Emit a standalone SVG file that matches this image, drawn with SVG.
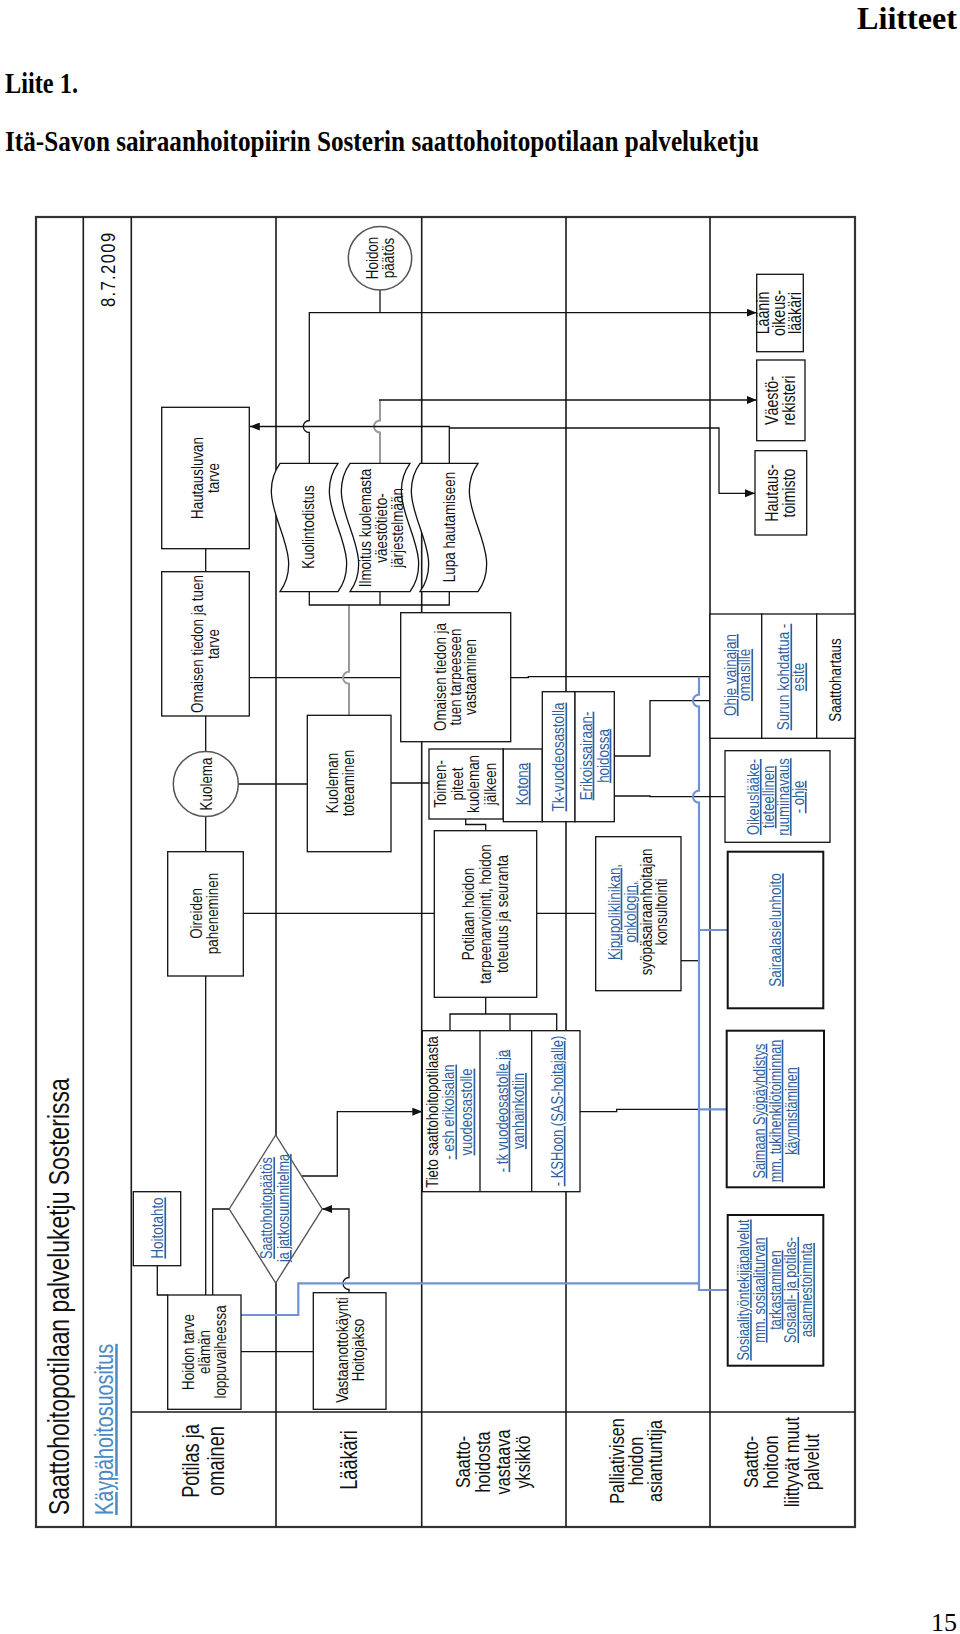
<svg xmlns="http://www.w3.org/2000/svg" width="960" height="1634" viewBox="0 0 960 1634">
<defs>
<style>
.ln{stroke:#111;stroke-width:1.3;fill:none}
.gl{stroke:#9a9a9a;stroke-width:2;fill:none}
.bl{stroke:#6f93d3;stroke-width:2.2;fill:none}
.bx{fill:#fff;stroke:#111;stroke-width:1.3}
.bx2{fill:#fff;stroke:#111;stroke-width:2}
.lane{stroke:#1a1a1a;stroke-width:1.6;fill:none}
.t{font-family:"Liberation Sans",Arial,sans-serif;font-size:17px;fill:#111;text-anchor:middle}
.lk{fill:#2f5f9f;text-decoration:underline}
.hd{font-family:"Liberation Serif","Times New Roman",serif;font-weight:bold;fill:#000}
</style>
<marker id="ar" viewBox="0 0 10 8" refX="10" refY="4" markerWidth="10" markerHeight="8" markerUnits="userSpaceOnUse" orient="auto"><path d="M0,0L10,4L0,8z" fill="#111"/></marker>
</defs>
<rect width="960" height="1634" fill="#fff"/>
<g id="page-text">
<text class="hd" x="957" y="29" text-anchor="end" style="font-size:32px" textLength="100" lengthAdjust="spacingAndGlyphs">Liitteet</text>
<text class="hd" x="5" y="93" style="font-size:29px" textLength="73" lengthAdjust="spacingAndGlyphs">Liite 1.</text>
<text class="hd" x="5" y="151" style="font-size:29px" textLength="754" lengthAdjust="spacingAndGlyphs">Itä-Savon sairaanhoitopiirin Sosterin saattohoitopotilaan palveluketju</text>
<text x="957" y="1631" text-anchor="end" font-family="Liberation Serif,serif" font-size="26">15</text>
</g>
<g id="frame">
<rect x="36" y="217" width="819" height="1310" fill="none" stroke="#333" stroke-width="2.2"/>
<path class="lane" d="M83.3,217V1527M131.3,217V1527M276,217V1527M421.7,217V1527M566,217V1527M710,217V1527M131.3,1412H855"/>
<text class="t" style="text-anchor:start;font-size:29px" transform="translate(69,1515) rotate(-90) scale(.79,1)">Saattohoitopotilaan palveluketju Sosterissa</text>
<text class="t" style="font-size:21px" textLength="94" transform="translate(115,270) rotate(-90) scale(.79,1)">8.7.2009</text>
<text class="t lk" style="text-anchor:start;fill:#4a8ac4;font-size:25px" transform="translate(113,1515) rotate(-90) scale(.79,1)">Käypähoitosuositus</text>
</g>
<g id="lane-labels">
<text class="t" style="font-size:23px" transform="translate(203.5,1461) rotate(-90) scale(.79,1)"><tspan x="0" y="-4.5">Potilas ja</tspan><tspan x="0" y="20.5">omainen</tspan></text>
<text class="t" style="font-size:23px" transform="translate(349,1460) rotate(-90) scale(.79,1)"><tspan x="0" y="8">Lääkäri</tspan></text>
<text class="t" style="font-size:20.5px" transform="translate(493,1462) rotate(-90) scale(.79,1)"><tspan x="0" y="-22.8">Saatto-</tspan><tspan x="0" y="-2.8">hoidosta</tspan><tspan x="0" y="17.2">vastaava</tspan><tspan x="0" y="37.2">yksikkö</tspan></text>
<text class="t" style="font-size:20.5px" transform="translate(636,1461) rotate(-90) scale(.79,1)"><tspan x="0" y="-11.8">Palliativisen</tspan><tspan x="0" y="7.2">hoidon</tspan><tspan x="0" y="26.2">asiantuntija</tspan></text>
<text class="t" style="font-size:20.5px" transform="translate(781,1462) rotate(-90) scale(.79,1)"><tspan x="0" y="-23.5">Saatto-</tspan><tspan x="0" y="-3">hoitoon</tspan><tspan x="0" y="17.5">liittyvät muut</tspan><tspan x="0" y="38">palvelut</tspan></text>
</g>
<g id="connectors">
<path class="ln" d="M205.7,548.7V571.7M205.7,716V751.5M205.7,816.3V851.7M205.7,976V1295"/>
<path class="ln" d="M157.3,1265.7V1295H167.7"/>
<path class="ln" d="M212.7,1295V1209H229.2"/>
<path class="ln" d="M241,1351.7H313.3"/>
<path class="ln" marker-end="url(#ar)" d="M349,1292.7V1289.5A6,6 0 0 1 349,1277.5V1209H322.2"/>
<path class="ln" marker-end="url(#ar)" d="M302,1176H337.3V1111.7H422.3"/>
<path class="ln" d="M238.3,784H307.3M391,783H429M243.3,913.3H434.3M536.7,913.3H595.7"/>
<path class="ln" d="M465.7,819V824.5H485.7V830.7"/>
<path class="ln" d="M485.7,997.3V1014M450,1030.7V1014H556.7V1030.7M510,1014V1030.7"/>
<path class="ln" d="M249.3,677.7H400.7"/>
<path class="gl" d="M349,605V671.7A6,6 0 0 0 349,683.7V715.3"/>
<path class="ln" d="M309.3,591.7V605H449.3V591.7M380,591.7V605"/>
<path class="ln" marker-end="url(#ar)" d="M309.3,463.3V432.5A6,6 0 0 1 309.3,420.5V312.7H756.7"/>
<path class="ln" d="M380,290V312.7"/>
<path class="gl" d="M380,463.3V432.5A6,6 0 0 1 380,420.5V400"/>
<path class="ln" marker-end="url(#ar)" d="M379,400H756.7"/>
<path class="ln" marker-end="url(#ar)" d="M449.3,463.3V426.5H249.8"/>
<path class="ln" marker-end="url(#ar)" d="M449.3,428H719V493.3H755"/>
<path class="ln" d="M510.7,677.7H528.3V676.7H710"/>
<path class="ln" d="M614.3,756H650V700.7H710"/>
<path class="ln" d="M614.3,796H650V796.7H725"/>
<path class="ln" d="M681,960.7H699"/>
<path class="ln" d="M580,1111.7H616.7V1109.3H699"/>
<path class="bl" d="M241,1315H298.3V1283.3H699"/>
<path class="bl" d="M699,676.7V694.7A6,6 0 0 0 699,706.7V790.7A6,6 0 0 0 699,802.7V1290H728.3"/>
<path class="bl" d="M699,930H727.7M699,1109.3H726.7"/>
</g>
<g id="n-hautausluvan"><rect class="bx" x="161.7" y="407.3" width="87.6" height="141.4"/>
<text class="t" transform="translate(204.7,478) rotate(-90) scale(.79,1)"><tspan x="0" y="-2">Hautausluvan</tspan><tspan x="0" y="14">tarve</tspan></text></g>
<g id="n-omaisen-tarve"><rect class="bx" x="161.7" y="571.7" width="87.6" height="144.3"/>
<text class="t" transform="translate(204.7,644) rotate(-90) scale(.79,1)"><tspan x="0" y="-2">Omaisen tiedon ja tuen</tspan><tspan x="0" y="14">tarve</tspan></text></g>
<g id="n-kuolema"><circle cx="205.8" cy="784" r="32.5" fill="#fff" stroke="#555" stroke-width="1.5"/>
<text class="t" transform="translate(205.8,784) rotate(-90) scale(.79,1)"><tspan x="0" y="6">Kuolema</tspan></text></g>
<g id="n-oireiden"><rect class="bx" x="167.7" y="851.7" width="75.6" height="124.3"/>
<text class="t" transform="translate(204,913.5) rotate(-90) scale(.79,1)"><tspan x="0" y="-2">Oireiden</tspan><tspan x="0" y="14">paheneminen</tspan></text></g>
<g id="n-hoitotahto"><rect class="bx" x="133.3" y="1191.7" width="47.4" height="74"/>
<text class="t lk" transform="translate(157.3,1228) rotate(-90) scale(.79,1)"><tspan x="0" y="6">Hoitotahto</tspan></text></g>
<g id="n-hoidon-tarve"><rect class="bx" x="167.7" y="1295" width="73.3" height="114.3"/>
<text class="t" transform="translate(204,1352) rotate(-90) scale(.79,1)"><tspan x="0" y="-10">Hoidon tarve</tspan><tspan x="0" y="6">elämän</tspan><tspan x="0" y="22">loppuvaiheessa</tspan></text></g>
<g id="n-paatos"><polygon points="229.2,1209 275.7,1135 322.2,1209 275.7,1283" fill="#fff" stroke="#555" stroke-width="1.4"/>
<text class="t lk" style="font-size:16px" transform="translate(275,1208) rotate(-90) scale(.79,1)"><tspan x="0" y="-2.7">Saattohoitopäätös</tspan><tspan x="0" y="13.9">ja jatkosuunnitelma</tspan></text></g>
<g id="n-vastaanotto"><rect class="bx" x="313.3" y="1292.7" width="72.7" height="116.6"/>
<text class="t" transform="translate(350,1350) rotate(-90) scale(.79,1)"><tspan x="0" y="-2">Vastaanottokäynti</tspan><tspan x="0" y="14">Hoitojakso</tspan></text></g>
<g id="n-kuoleman-toteaminen"><rect class="bx" x="307.3" y="715.3" width="83.7" height="136.4"/>
<text class="t" transform="translate(340,783) rotate(-90) scale(.79,1)"><tspan x="0" y="-2">Kuoleman</tspan><tspan x="0" y="14">toteaminen</tspan></text></g>
<g id="n-kuolintodistus"><path class="bx" d="M280,463.3H338C308,505.7 368,549.3 338,591.7H280C310,549.3 250,505.7 280,463.3Z"/>
<text class="t" transform="translate(308,527) rotate(-90) scale(.79,1)"><tspan x="0" y="6">Kuolintodistus</tspan></text></g>
<g id="n-ilmoitus"><path class="bx" d="M350,463.3H410C380,505.7 440,549.3 410,591.7H350C380,549.3 320,505.7 350,463.3Z"/>
<text class="t" transform="translate(380.6,528) rotate(-90) scale(.79,1)"><tspan x="0" y="-10">Ilmoitus kuolemasta</tspan><tspan x="0" y="6">väestötieto-</tspan><tspan x="0" y="22">järjestelmään</tspan></text></g>
<g id="n-lupa"><path class="bx" d="M420,463.3H478C448,505.7 508,549.3 478,591.7H420C450,549.3 390,505.7 420,463.3Z"/>
<text class="t" transform="translate(449.3,527) rotate(-90) scale(.79,1)"><tspan x="0" y="6">Lupa hautamiseen</tspan></text></g>
<g id="n-hoidon-paatos"><circle cx="380" cy="258.3" r="31.7" fill="#fff" stroke="#555" stroke-width="1.5"/>
<text class="t" transform="translate(380,258) rotate(-90) scale(.79,1)"><tspan x="0" y="-2">Hoidon</tspan><tspan x="0" y="14">päätös</tspan></text></g>
<g id="n-omaisen-vastaaminen"><rect class="bx" x="400.7" y="612.7" width="110" height="129"/>
<text class="t" transform="translate(455,677) rotate(-90) scale(.79,1)"><tspan x="0" y="-9">Omaisen tiedon ja</tspan><tspan x="0" y="6">tuen tarpeeseen</tspan><tspan x="0" y="21">vastaaminen</tspan></text></g>
<g id="n-toimenpiteet"><rect class="bx" x="429" y="749" width="74.3" height="70"/>
<text class="t" transform="translate(465,784) rotate(-90) scale(.79,1)"><tspan x="0" y="-18.7">Toimen-</tspan><tspan x="0" y="-2.2">piteet</tspan><tspan x="0" y="14.3">kuoleman</tspan><tspan x="0" y="30.8">jälkeen</tspan></text></g>
<g id="n-kotona"><rect class="bx" x="503.3" y="749" width="39" height="72.7"/>
<text class="t lk" transform="translate(521.7,784) rotate(-90) scale(.79,1)"><tspan x="0" y="6">Kotona</tspan></text></g>
<g id="n-tk"><rect class="bx" x="542.3" y="691.7" width="32.7" height="130"/>
<text class="t lk" transform="translate(558.3,757) rotate(-90) scale(.79,1)"><tspan x="0" y="6">Tk-vuodeosastolla</tspan></text></g>
<g id="n-erikois"><rect class="bx" x="575" y="691.7" width="39.3" height="130"/>
<text class="t lk" transform="translate(594,756) rotate(-90) scale(.79,1)"><tspan x="0" y="-2.5">Erikoissairaan-</tspan><tspan x="0" y="14.5">hoidossa</tspan></text></g>
<g id="n-potilaan"><rect class="bx" x="434.3" y="830.7" width="102.4" height="166.6"/>
<text class="t" transform="translate(485,914) rotate(-90) scale(.79,1)"><tspan x="0" y="-10.7">Potilaan hoidon</tspan><tspan x="0" y="6">tarpeenarviointi, hoidon</tspan><tspan x="0" y="22.7">toteutus ja seuranta</tspan></text></g>
<g id="n-kipu"><rect class="bx" x="595.7" y="836.7" width="85.3" height="154"/>
<text class="t" transform="translate(637.5,912) rotate(-90) scale(.79,1)"><tspan class="lk" x="0" y="-18">Kipupoliklinikan,</tspan><tspan class="lk" x="0" y="-2">onkologin,</tspan><tspan x="0" y="14">syöpäsairaanhoitajan</tspan><tspan x="0" y="30">konsultointi</tspan></text></g>
<g id="n-tieto"><rect class="bx" x="422.3" y="1030.7" width="157.7" height="161"/>
<path class="ln" d="M480,1030.7V1191.7M531.7,1030.7V1191.7"/>
<text class="t" style="font-size:16.5px" transform="translate(449,1112) rotate(-90) scale(.79,1)"><tspan x="0" y="-11.5">Tieto saattohoitopotilaasta</tspan><tspan class="lk" x="0" y="5.3">- esh erikoisalan</tspan><tspan class="lk" x="0" y="23.5">vuodeosastolle</tspan></text>
<text class="t lk" style="font-size:16.5px" transform="translate(510,1111) rotate(-90) scale(.79,1)"><tspan x="0" y="-2.5">- tk vuodeosastolle ja</tspan><tspan x="0" y="14">vanhainkotiin</tspan></text>
<text class="t lk" style="font-size:16.5px" transform="translate(556.7,1111) rotate(-90) scale(.79,1)"><tspan x="0" y="6">- KSHoon (SAS-hoitajalle)</tspan></text></g>
<g id="n-laanin"><rect class="bx" x="756.7" y="274.3" width="46.6" height="77.4"/>
<text class="t" style="font-size:18px" transform="translate(779,313) rotate(-90) scale(.79,1)"><tspan x="0" y="-9.7">Läänin</tspan><tspan x="0" y="6.3">oikeus-</tspan><tspan x="0" y="22.3">lääkäri</tspan></text></g>
<g id="n-vaesto"><rect class="bx" x="756.7" y="360" width="48.3" height="80.7"/>
<text class="t" style="font-size:18px" transform="translate(780,400.5) rotate(-90) scale(.79,1)"><tspan x="0" y="-2">Väestö-</tspan><tspan x="0" y="14.5">rekisteri</tspan></text></g>
<g id="n-hautaustoimisto"><rect class="bx" x="755" y="450.7" width="51.7" height="84.3"/>
<text class="t" style="font-size:18px" transform="translate(780,493) rotate(-90) scale(.79,1)"><tspan x="0" y="-2">Hautaus-</tspan><tspan x="0" y="14.5">toimisto</tspan></text></g>
<g id="n-ohje-group">
<rect class="bx" x="710" y="614" width="51.7" height="124.3"/>
<rect class="bx" x="761.7" y="614" width="55" height="124.3"/>
<rect class="bx" x="816.7" y="614" width="38.3" height="124.3"/>
<text class="t lk" transform="translate(737,675) rotate(-90) scale(.79,1)"><tspan x="0" y="-1.3">Ohje vainajan</tspan><tspan x="0" y="13.3">omaisille</tspan></text>
<text class="t lk" transform="translate(790.8,677) rotate(-90) scale(.79,1)"><tspan x="0" y="-1.5">Surun kohdattua -</tspan><tspan x="0" y="13.5">esite</tspan></text>
<text class="t" transform="translate(835,680) rotate(-90) scale(.79,1)"><tspan x="0" y="6">Saattohartaus</tspan></text></g>
<g id="n-oikeus"><rect class="bx" x="725" y="750.7" width="105" height="91.6"/>
<text class="t lk" style="font-size:16.5px" transform="translate(775.5,797) rotate(-90) scale(.79,1)"><tspan x="0" y="-16.7">Oikeuslääke-</tspan><tspan x="0" y="-1.7">tieteellinen</tspan><tspan x="0" y="13.3">ruumiinavaus</tspan><tspan x="0" y="28.3">- ohje</tspan></text></g>
<g id="n-sairaala"><rect class="bx2" x="727.7" y="851.7" width="95.6" height="156.6"/>
<text class="t lk" transform="translate(775,930) rotate(-90) scale(.79,1)"><tspan x="0" y="6">Sairaalasielunhoito</tspan></text></g>
<g id="n-saimaan"><rect class="bx2" x="726.7" y="1030.7" width="97.3" height="156.6"/>
<text class="t lk" style="font-size:16px" transform="translate(775,1111) rotate(-90) scale(.79,1)"><tspan x="0" y="-10.4">Saimaan Syöpäyhdistys</tspan><tspan x="0" y="5.6">mm. tukihenkilötoiminnan</tspan><tspan x="0" y="21.6">käynnistäminen</tspan></text></g>
<g id="n-sosiaali"><rect class="bx2" x="727.7" y="1215" width="95.6" height="150.7"/>
<text class="t lk" style="font-size:16px" transform="translate(775,1290) rotate(-90) scale(.79,1)"><tspan x="0" y="-26">Sosiaalityöntekijäpalvelut</tspan><tspan x="0" y="-10.2">mm. sosiaaliturvan</tspan><tspan x="0" y="5.6">tarkastaminen</tspan><tspan x="0" y="21.4">Sosiaali- ja potilas-</tspan><tspan x="0" y="37.2">asiamiestoiminta</tspan></text></g>
</svg>
